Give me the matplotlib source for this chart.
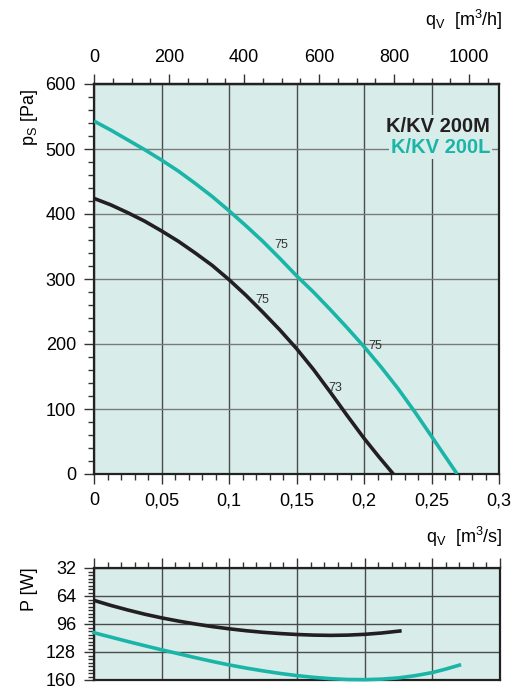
import numpy as np
import matplotlib
matplotlib.use('Agg')
from matplotlib import pyplot as plt
from matplotlib.ticker import MultipleLocator, FixedLocator, FuncFormatter

plt.rcParams['font.family'] = ['Liberation Sans', 'DejaVu Sans']

# pressure curves, q in m3/s, p in Pa
q_m = [0, 0.0125, 0.025, 0.0375, 0.05, 0.0625, 0.075, 0.0875, 0.1, 0.1125,
       0.125, 0.1375, 0.15, 0.1625, 0.175, 0.1875, 0.2, 0.2108, 0.2217]
p_m = [424, 414, 402, 389, 374, 358, 340, 321, 299, 275,
       249, 222, 193, 161, 126, 90, 55, 27, 0]
q_l = [0, 0.0125, 0.025, 0.0375, 0.05, 0.0625, 0.075, 0.0875, 0.1, 0.1125,
       0.125, 0.1375, 0.15, 0.1625, 0.175, 0.1875, 0.2, 0.2125, 0.225,
       0.2375, 0.25, 0.2595, 0.269]
p_l = [543, 529, 514, 499, 483, 466, 447, 427, 405, 382,
       358, 332, 305, 280, 253, 225, 196, 165, 132,
       96, 58, 29, 0]

# power curves, W
qp_m = [0, 0.0125, 0.025, 0.0375, 0.05, 0.0625, 0.075, 0.0875, 0.1, 0.1125,
        0.125, 0.1375, 0.15, 0.1625, 0.175, 0.1875, 0.2, 0.2125, 0.226]
P_m = [69, 74.8, 80, 84.8, 89, 92.7, 96, 99, 101.5, 103.7,
       105.5, 106.9, 108, 108.7, 109, 108.7, 107.8, 106.3, 104]
qp_l = [0, 0.0125, 0.025, 0.0375, 0.05, 0.0625, 0.075, 0.0875, 0.1, 0.1125,
        0.125, 0.1375, 0.15, 0.1625, 0.175, 0.1875, 0.2, 0.2125, 0.225,
        0.2375, 0.25, 0.26, 0.27]
P_l = [106, 111, 116, 120.8, 125.5, 130, 134.5, 138.8, 142.8, 146.4,
       149.6, 152.5, 155, 157, 158.5, 159.4, 159.6, 159, 157.6,
       155, 151.5, 147.5, 143]

# efficiency labels
eff_q = [0.139, 0.125, 0.2081, 0.1785]
eff_p = [353, 267, 197, 133]
eff_txt = ['75', '75', '75', '73']

names = ['K/KV 200M', 'K/KV 200L']

BG = '#d8edea'
BLACK = '#231f20'
TEAL = '#1bb5a8'
VGRID = '#4a4a4a'
HGRID = '#7a7a7a'

W, H = 519, 693
fig = plt.figure(figsize=(W / 100, H / 100), dpi=100)

def fx(px):
    return px / W

def fy(py):
    return 1 - py / H

ax = fig.add_axes([fx(94), fy(474), fx(499) - fx(94), fy(84) - fy(474)])
ax2 = fig.add_axes([fx(94), fy(680), fx(500) - fx(94), fy(568) - fy(680)])

for a in (ax, ax2):
    a.set_facecolor(BG)
    for s in a.spines.values():
        s.set_linewidth(1.6)
        s.set_color('#222222')
    a.set_axisbelow(True)

# ---- main chart
ax.plot(q_m, p_m, color=BLACK, lw=2.6, solid_capstyle='butt', zorder=3)
ax.plot(q_l, p_l, color=TEAL, lw=2.6, solid_capstyle='butt', zorder=3)
ax.set_xlim(0, 0.3)
ax.set_ylim(0, 600)
ax.xaxis.set_major_locator(MultipleLocator(0.05))
ax.xaxis.set_minor_locator(MultipleLocator(0.01))
ax.yaxis.set_major_locator(MultipleLocator(100))
ax.yaxis.set_minor_locator(MultipleLocator(20))
ax.xaxis.set_major_formatter(FuncFormatter(lambda v, p: ('%g' % round(v, 3)).replace('.', ',')))
ax.tick_params(which='both', direction='out', color='#333333', width=1.0, labelsize=13)
ax.tick_params(which='major', length=7, pad=6)
ax.tick_params(which='minor', length=4)
ax.grid(axis='x', which='major', color=VGRID, lw=1.0)
ax.grid(axis='y', which='major', color=HGRID, lw=1.0)

for q, p, t in zip(eff_q, eff_p, eff_txt):
    ax.text(q, p, t, fontsize=9, color='#333333', ha='center', va='center', zorder=4)

ax.text(0.2935, 535, names[0], color=BLACK, fontsize=14.5, fontweight='bold',
        ha='right', va='center', zorder=5,
        bbox=dict(facecolor=BG, edgecolor='none', pad=1.5))
ax.text(0.2935, 502, names[1], color=TEAL, fontsize=14.5, fontweight='bold',
        ha='right', va='center', zorder=5,
        bbox=dict(facecolor=BG, edgecolor='none', pad=1.5))

top = ax.secondary_xaxis('top', functions=(lambda q: q * 3600, lambda h: h / 3600))
top.xaxis.set_major_locator(FixedLocator([0, 200, 400, 600, 800, 1000]))
top.xaxis.set_minor_locator(MultipleLocator(50))
top.tick_params(which='both', direction='out', color='#333333', width=1.0, labelsize=13)
top.tick_params(which='major', length=7, pad=6)
top.tick_params(which='minor', length=4)
top.spines['top'].set_linewidth(1.6)

# ---- power chart
ax2.plot(qp_m, P_m, color=BLACK, lw=2.6, zorder=3)
ax2.plot(qp_l, P_l, color=TEAL, lw=2.6, zorder=3, clip_on=False)
ax2.set_xlim(0, 0.3)
ax2.set_ylim(160, 32)
ax2.xaxis.set_major_locator(MultipleLocator(0.05))
ax2.xaxis.set_minor_locator(MultipleLocator(0.01))
ax2.yaxis.set_major_locator(FixedLocator([32, 64, 96, 128, 160]))
ax2.yaxis.set_minor_locator(MultipleLocator(4))
ax2.xaxis.tick_top()
ax2.tick_params(axis='x', which='both', labeltop=False, labelbottom=False)
ax2.tick_params(which='both', direction='out', color='#333333', width=1.0, labelsize=13)
ax2.tick_params(which='major', length=7, pad=6)
ax2.tick_params(which='minor', length=4)
ax2.grid(axis='x', which='major', color=VGRID, lw=1.0)
ax2.grid(axis='y', which='major', color=VGRID, lw=1.0)

# ---- axis titles
fig.text(fx(30), fy(118), 'p$_\\mathregular{S}$ [Pa]', rotation=90, fontsize=13,
         ha='center', va='center')
fig.text(fx(30), fy(589), 'P [W]', rotation=90, fontsize=13, ha='center', va='center')
fig.text(fx(503), fy(20), 'q$_\\mathregular{V}$  [m$^\\mathregular{3}$/h]', fontsize=13,
         ha='right', va='center')
fig.text(fx(503), fy(537), 'q$_\\mathregular{V}$  [m$^\\mathregular{3}$/s]', fontsize=13,
         ha='right', va='center')

fig.savefig('out.png', dpi=100, facecolor='white')
